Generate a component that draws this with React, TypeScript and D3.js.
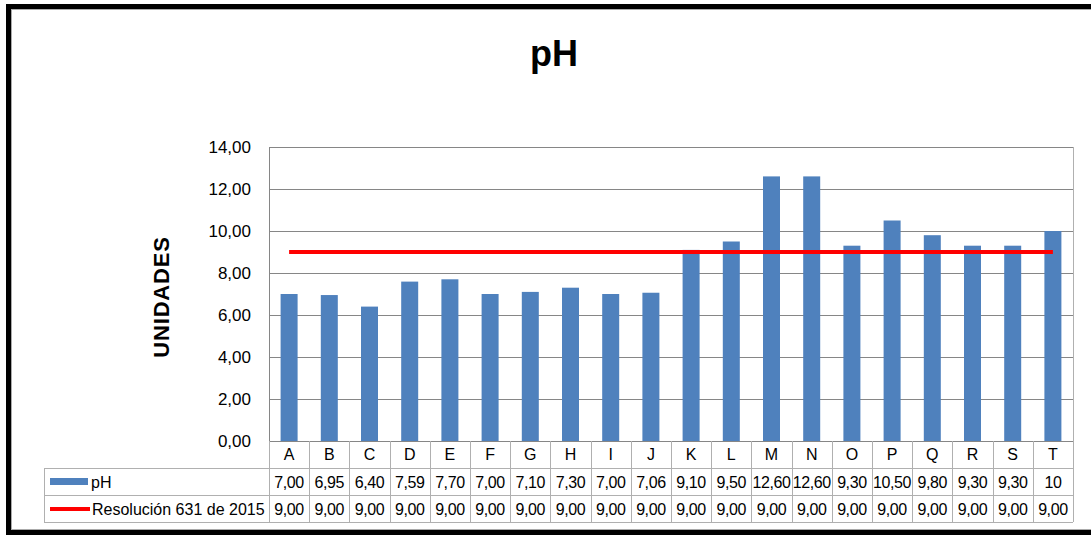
import React from "react";
import { scaleBand, scaleLinear, line } from "d3";

const categories = ["A","B","C","D","E","F","G","H","I","J","K","L","M","N","O","P","Q","R","S","T"];
const phValues = [7.0, 6.95, 6.4, 7.59, 7.7, 7.0, 7.1, 7.3, 7.0, 7.06, 9.1, 9.5, 12.6, 12.6, 9.3, 10.5, 9.8, 9.3, 9.3, 10];
const phLabels = ["7,00","6,95","6,40","7,59","7,70","7,00","7,10","7,30","7,00","7,06","9,10","9,50","12,60","12,60","9,30","10,50","9,80","9,30","9,30","10"];
const limitValues = [9,9,9,9,9,9,9,9,9,9,9,9,9,9,9,9,9,9,9,9];
const yTicks = [0, 2, 4, 6, 8, 10, 12, 14];
const seriesNames = ["pH", "Resolución 631 de 2015"];

const W = 1091, H = 536;
const plotL = 269, plotR = 1073, plotT = 147, plotB = 441;
const tableL = 44, rowH = 27;

export default function App() {
  const x = scaleBand<string>().domain(categories).range([plotL, plotR]);
  const y = scaleLinear().domain([0, 14]).range([plotB, plotT]);
  const barW = 17;
  const fmt = (v: number) => v.toFixed(2).replace(".", ",");
  const limitLine = line<number>()
    .x((_, i) => x(categories[i])! + x.bandwidth() / 2)
    .y((d) => y(d));

  const font = "'Liberation Sans', Arial, sans-serif";
  const gridColor = "#868686";
  const tableColor = "#B0B0B0";
  const r1 = plotB, r2 = plotB + rowH, r3 = plotB + rowH * 2, r4 = plotB + rowH * 3;

  return (
    <svg width={W} height={H} style={{ position: "fixed", left: 0, top: 0 }} fontFamily={font}>
      <rect width={W} height={H} fill="#fff" />
      {/* outer frame */}
      <rect x={8.5} y={6.5} width={W + 10} height={526} fill="none" stroke="#000" strokeWidth={5} />
      <rect x={11.5} y={9.5} width={W + 10} height={520} fill="none" stroke="#aaa" strokeWidth={1} />

      <text x={554} y={66} textAnchor="middle" fontSize={36} fontWeight="bold">pH</text>

      {/* gridlines */}
      {yTicks.map((t) => (
        <g key={t}>
          <line x1={plotL} x2={plotR} y1={y(t) + 0.5} y2={y(t) + 0.5} stroke={gridColor} strokeWidth={1} />
          <text x={251} y={y(t) + 6} textAnchor="end" fontSize={17} fill="#000">{fmt(t)}</text>
        </g>
      ))}
      <line x1={plotL + 0.5} x2={plotL + 0.5} y1={plotT} y2={plotB} stroke={gridColor} />

      <text transform={`translate(169,297) rotate(-90)`} textAnchor="middle" fontSize={22} fontWeight="bold" letterSpacing={0.8}>UNIDADES</text>

      {/* bars */}
      {phValues.map((v, i) => (
        <rect key={i} x={x(categories[i])! + x.bandwidth() / 2 - barW / 2} y={y(v)} width={barW} height={plotB - y(v)} fill="#4F81BD" />
      ))}

      <path d={limitLine(limitValues) ?? ""} fill="none" stroke="#FF0000" strokeWidth={4} />

      {/* data table */}
      <g stroke={tableColor} strokeWidth={1}>
        <line x1={tableL} x2={plotR} y1={r2 + 0.5} y2={r2 + 0.5} />
        <line x1={tableL} x2={plotR} y1={r3 + 0.5} y2={r3 + 0.5} />
        <line x1={tableL} x2={plotR} y1={r4 + 0.5} y2={r4 + 0.5} />
        <line x1={tableL + 0.5} x2={tableL + 0.5} y1={r2} y2={r4} />
        {categories.map((c) => (
          <line key={c} x1={Math.round(x(c)!) + 0.5} x2={Math.round(x(c)!) + 0.5} y1={r1} y2={r4} />
        ))}
        <line x1={plotR + 0.5} x2={plotR + 0.5} y1={plotT} y2={r4} />
      </g>
      {categories.map((c, i) => {
        const cx = x(c)! + x.bandwidth() / 2;
        return (
          <g key={c} fontSize={16} textAnchor="middle">
            <text x={cx} y={r1 + 19}>{c}</text>
            <text x={cx} y={r2 + 20} letterSpacing={-0.4}>{phLabels[i]}</text>
            <text x={cx} y={r3 + 20} letterSpacing={-0.4}>{fmt(limitValues[i])}</text>
          </g>
        );
      })}
      <rect x={50} y={r2 + 10} width={38} height={7} fill="#4F81BD" />
      <text x={91} y={r2 + 20} fontSize={16}>{seriesNames[0]}</text>
      <line x1={50} x2={90} y1={r3 + 14} y2={r3 + 14} stroke="#FF0000" strokeWidth={4} />
      <text x={92} y={r3 + 20} fontSize={16}>{seriesNames[1]}</text>
    </svg>
  );
}
